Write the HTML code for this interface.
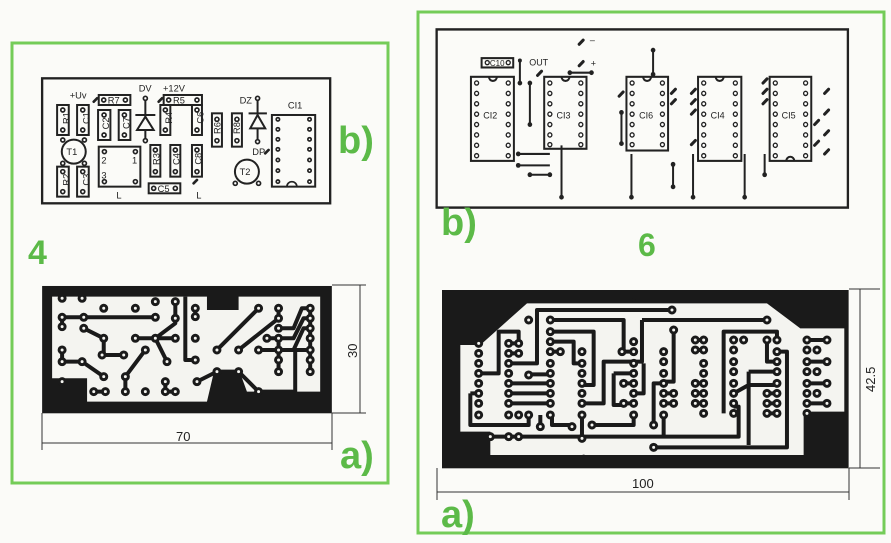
<!DOCTYPE html>
<html><head><meta charset="utf-8"><style>
html,body{margin:0;padding:0;background:#fdfdfb;}
svg{display:block;font-family:"Liberation Sans",sans-serif;}
.g{fill:#5cba48;font-weight:bold;font-family:"Liberation Sans",sans-serif;}
</style></head><body>
<svg width="891" height="543" viewBox="0 0 891 543" xmlns="http://www.w3.org/2000/svg">
<rect width="891" height="543" fill="#fbfbf8"/>
<rect x="12" y="43" width="376" height="440" fill="none" stroke="#74cc58" stroke-width="3"/>
<rect x="418" y="12" width="466" height="521" fill="none" stroke="#74cc58" stroke-width="3"/>

<!-- LEFT b) -->
<g transform="translate(0.5,30) scale(0.333,0.3333)" stroke="#222" fill="none" stroke-width="5">
<rect x="125" y="145" width="865" height="375" stroke-width="7"/>
<g stroke-width="6">
<rect x="170" y="225" width="35" height="90"/><rect x="230" y="225" width="35" height="90"/>
<rect x="293" y="240" width="37" height="90"/><rect x="355" y="240" width="35" height="90"/>
<rect x="295" y="195" width="95" height="30"/>
<rect x="480" y="225" width="30" height="90"/><rect x="575" y="225" width="30" height="90"/>
<rect x="490" y="195" width="115" height="30"/>
<rect x="635" y="250" width="30" height="100"/><rect x="695" y="250" width="30" height="100"/>
<rect x="815" y="255" width="130" height="215"/>
<circle cx="220" cy="365" r="36"/><circle cx="740" cy="425" r="36"/>
<rect x="295" y="350" width="125" height="120"/>
<rect x="170" y="410" width="35" height="90"/><rect x="230" y="410" width="35" height="90"/>
<rect x="450" y="345" width="30" height="95"/><rect x="510" y="345" width="30" height="95"/>
<rect x="575" y="345" width="30" height="95"/>
<rect x="445" y="460" width="95" height="30"/>
</g>
<path d="M435 205V260M435 300V330M405 255H465M410 300H460M435 260L410 300H460Z" stroke-width="6"/>
<path d="M772 205V255M772 295V335M745 250H800M772 255L750 295H795Z" stroke-width="6"/>
<path d="M860 470a15 15 0 0 1 30 0" stroke-width="5"/>
<g fill="#fff" stroke-width="5">
<circle cx="187" cy="240" r="6"/><circle cx="187" cy="300" r="6"/><circle cx="247" cy="240" r="6"/><circle cx="247" cy="300" r="6"/>
<circle cx="311" cy="255" r="6"/><circle cx="311" cy="315" r="6"/><circle cx="372" cy="255" r="6"/><circle cx="372" cy="315" r="6"/>
<circle cx="310" cy="210" r="6"/><circle cx="375" cy="210" r="6"/><circle cx="505" cy="210" r="6"/><circle cx="590" cy="210" r="6"/>
<circle cx="495" cy="240" r="6"/><circle cx="495" cy="300" r="6"/><circle cx="590" cy="240" r="6"/><circle cx="590" cy="300" r="6"/>
<circle cx="650" cy="268" r="6"/><circle cx="650" cy="332" r="6"/><circle cx="710" cy="268" r="6"/><circle cx="710" cy="332" r="6"/>
<circle cx="435" cy="205" r="6"/><circle cx="435" cy="332" r="6"/><circle cx="772" cy="205" r="6"/><circle cx="772" cy="335" r="6"/>
<circle cx="187" cy="330" r="6"/><circle cx="252" cy="330" r="6"/><circle cx="187" cy="400" r="6"/><circle cx="252" cy="400" r="6"/>
<circle cx="187" cy="425" r="6"/><circle cx="187" cy="485" r="6"/><circle cx="247" cy="425" r="6"/><circle cx="247" cy="485" r="6"/>
<circle cx="312" cy="365" r="6"/><circle cx="405" cy="365" r="6"/><circle cx="312" cy="455" r="6"/><circle cx="405" cy="455" r="6"/>
<circle cx="465" cy="360" r="6"/><circle cx="465" cy="425" r="6"/><circle cx="525" cy="360" r="6"/><circle cx="525" cy="425" r="6"/>
<circle cx="590" cy="360" r="6"/><circle cx="590" cy="425" r="6"/><circle cx="460" cy="475" r="6"/><circle cx="525" cy="475" r="6"/>
<circle cx="705" cy="460" r="6"/><circle cx="775" cy="460" r="6"/>
<circle cx="833" cy="268" r="5"/><circle cx="833" cy="298" r="5"/><circle cx="833" cy="328" r="5"/><circle cx="833" cy="358" r="5"/><circle cx="833" cy="390" r="5"/><circle cx="833" cy="422" r="5"/><circle cx="833" cy="455" r="5"/>
<circle cx="928" cy="268" r="5"/><circle cx="928" cy="298" r="5"/><circle cx="928" cy="328" r="5"/><circle cx="928" cy="358" r="5"/><circle cx="928" cy="390" r="5"/><circle cx="928" cy="422" r="5"/><circle cx="928" cy="455" r="5"/>
</g>
<g stroke-width="8" stroke-linecap="round"><path d="M280 215l10-10M475 215l10-10M580 460l10-10M795 370l10-10"/></g>
<g stroke="none" fill="#222" font-size="28">
<text x="175" y="290" transform="rotate(-90 187 270)">R1</text>
<text x="235" y="290" transform="rotate(-90 247 270)">C1</text>
<text x="298" y="300" transform="rotate(-90 311 285)">C2</text>
<text x="360" y="300" transform="rotate(-90 372 285)">C7</text>
<text x="322" y="221">R7</text><text x="518" y="221">R5</text>
<text x="484" y="290" transform="rotate(-90 495 270)">R4</text>
<text x="579" y="290" transform="rotate(-90 590 270)">C6</text>
<text x="638" y="310" transform="rotate(-90 650 300)">R6</text>
<text x="698" y="310" transform="rotate(-90 710 300)">R8</text>
<text x="175" y="475" transform="rotate(-90 187 455)">R2</text>
<text x="235" y="475" transform="rotate(-90 247 455)">C3</text>
<text x="452" y="405" transform="rotate(-90 465 392)">R3</text>
<text x="512" y="405" transform="rotate(-90 525 392)">C4</text>
<text x="578" y="405" transform="rotate(-90 590 392)">C8</text>
<text x="472" y="486">C5</text>
<text x="198" y="375">T1</text><text x="718" y="435">T2</text>
<text x="303" y="400">2</text><text x="395" y="400">1</text><text x="303" y="445">3</text>
<text x="348" y="505">L</text><text x="588" y="505">L</text>
<text x="208" y="205">+Uv</text><text x="415" y="185">DV</text><text x="488" y="185">+12V</text>
<text x="718" y="220">DZ</text><text x="863" y="235">CI1</text><text x="756" y="375">DP</text>
</g>
</g>

<!-- LEFT a) -->
<g transform="translate(0.5,30) scale(0.333,0.3333)">
<rect x="125" y="768" width="870" height="382" fill="#1a1a1a"/>
<path d="M155 800H620V840H715V800H960V1085H740L720 1030H640L620 1115H260V1045H155Z" fill="#f4f4f0"/>
<g stroke="#1a1a1a" stroke-width="12" fill="none" stroke-linejoin="round">
<path d="M185 862H465M185 862V890M250 895L310 925V975H370M185 995H245L310 1040M465 925L525 880V815M405 925H465L500 995M465 925H525M435 960L375 1040V1085M650 960L775 835M715 960L835 865V835M800 925H880L910 865H930M775 960H880L910 895H930M835 895H880L905 835H930M590 1055L650 1025H715L775 1085H885V960H930M555 800V990H585M585 835V860M280 1085H315M495 1055V1085H525M185 960V995M835 925V1025M930 835V1025"/>
</g>
<g fill="#f4f4f0" stroke="#1a1a1a" stroke-width="9">
<circle cx="185" cy="805" r="9"/><circle cx="245" cy="805" r="9"/><circle cx="310" cy="835" r="9"/><circle cx="405" cy="835" r="9"/><circle cx="465" cy="815" r="9"/><circle cx="525" cy="815" r="9"/><circle cx="585" cy="835" r="9"/><circle cx="585" cy="860" r="9"/><circle cx="185" cy="862" r="9"/><circle cx="250" cy="862" r="9"/><circle cx="465" cy="862" r="9"/><circle cx="525" cy="865" r="9"/><circle cx="185" cy="890" r="9"/><circle cx="250" cy="895" r="9"/><circle cx="310" cy="925" r="9"/><circle cx="405" cy="925" r="9"/><circle cx="465" cy="925" r="9"/><circle cx="525" cy="925" r="9"/><circle cx="585" cy="925" r="9"/><circle cx="650" cy="960" r="9"/><circle cx="775" cy="835" r="9"/><circle cx="835" cy="835" r="9"/><circle cx="930" cy="835" r="9"/><circle cx="835" cy="865" r="9"/><circle cx="930" cy="865" r="9"/><circle cx="835" cy="895" r="9"/><circle cx="930" cy="895" r="9"/><circle cx="800" cy="925" r="9"/><circle cx="835" cy="925" r="9"/><circle cx="930" cy="925" r="9"/><circle cx="775" cy="960" r="9"/><circle cx="835" cy="960" r="9"/><circle cx="930" cy="960" r="9"/><circle cx="835" cy="990" r="9"/><circle cx="930" cy="990" r="9"/><circle cx="835" cy="1025" r="9"/><circle cx="930" cy="1025" r="9"/><circle cx="185" cy="960" r="9"/><circle cx="185" cy="995" r="9"/><circle cx="245" cy="995" r="9"/><circle cx="305" cy="975" r="9"/><circle cx="370" cy="975" r="9"/><circle cx="435" cy="960" r="9"/><circle cx="500" cy="995" r="9"/><circle cx="585" cy="990" r="9"/><circle cx="310" cy="1040" r="9"/><circle cx="185" cy="1055" r="9"/><circle cx="375" cy="1040" r="9"/><circle cx="280" cy="1085" r="9"/><circle cx="315" cy="1085" r="9"/><circle cx="375" cy="1085" r="9"/><circle cx="435" cy="1085" r="9"/><circle cx="495" cy="1055" r="9"/><circle cx="495" cy="1085" r="9"/><circle cx="525" cy="1085" r="9"/><circle cx="590" cy="1055" r="9"/><circle cx="650" cy="1025" r="9"/><circle cx="715" cy="1025" r="9"/><circle cx="775" cy="1085" r="9"/><circle cx="715" cy="960" r="9"/>
</g>
</g>
<g stroke="#333" stroke-width="1" fill="none">
<path d="M42 413V450M332 413V450M42 443H332M332 285H366M332 413H366M360 285V413"/>
</g>
<text x="176" y="441" font-size="13" fill="#222">70</text>
<text x="0" y="0" font-size="13" fill="#222" transform="translate(357,358) rotate(-90)">30</text>

<!-- RIGHT b) -->
<g transform="translate(410,0) scale(0.333,0.346)" stroke="#222" fill="none">
<rect x="80" y="85" width="1235" height="515" stroke-width="7"/>
<g stroke-width="6">
<rect x="183" y="222" width="129" height="243"/><rect x="403" y="222" width="127" height="208"/>
<rect x="650" y="222" width="125" height="213"/><rect x="865" y="222" width="130" height="243"/>
<rect x="1080" y="222" width="125" height="243"/>
<rect x="215" y="168" width="95" height="27"/>
</g>
<g stroke-width="6">
<path d="M237 222a12 12 0 0 0 24 0M455 222a12 12 0 0 0 24 0M700 222a12 12 0 0 0 24 0M918 222a12 12 0 0 0 24 0M1130 465a12 12 0 0 1 24 0"/>
<path d="M330 175V240M360 240V360M325 445H420M325 478H420M360 505H420M455 420V570M480 210H545M730 145V215M635 325V415M665 445V570M790 475V540M850 445V570M1005 445V570M1065 445V505"/>
</g>
<g fill="#222" stroke="none">
<circle cx="330" cy="240" r="7"/><circle cx="360" cy="240" r="7"/><circle cx="360" cy="360" r="7"/><circle cx="325" cy="445" r="7"/><circle cx="325" cy="478" r="7"/><circle cx="360" cy="505" r="7"/><circle cx="420" cy="505" r="7"/><circle cx="455" cy="570" r="7"/><circle cx="480" cy="210" r="7"/><circle cx="545" cy="210" r="7"/><circle cx="730" cy="145" r="7"/><circle cx="730" cy="215" r="7"/><circle cx="635" cy="325" r="7"/><circle cx="635" cy="415" r="7"/><circle cx="665" cy="570" r="7"/><circle cx="790" cy="475" r="7"/><circle cx="790" cy="540" r="7"/><circle cx="850" cy="570" r="7"/><circle cx="1005" cy="570" r="7"/><circle cx="1065" cy="505" r="7"/><circle cx="330" cy="175" r="6"/>
</g>
<g fill="#fff" stroke-width="4">
<circle cx="200" cy="240" r="6"/><circle cx="200" cy="270" r="6"/><circle cx="200" cy="300" r="6"/><circle cx="200" cy="330" r="6"/><circle cx="200" cy="360" r="6"/><circle cx="200" cy="390" r="6"/><circle cx="200" cy="420" r="6"/><circle cx="200" cy="450" r="6"/>
<circle cx="295" cy="240" r="6"/><circle cx="295" cy="270" r="6"/><circle cx="295" cy="300" r="6"/><circle cx="295" cy="330" r="6"/><circle cx="295" cy="360" r="6"/><circle cx="295" cy="390" r="6"/><circle cx="295" cy="420" r="6"/><circle cx="295" cy="450" r="6"/>
<circle cx="420" cy="240" r="6"/><circle cx="420" cy="270" r="6"/><circle cx="420" cy="300" r="6"/><circle cx="420" cy="330" r="6"/><circle cx="420" cy="360" r="6"/><circle cx="420" cy="390" r="6"/><circle cx="420" cy="418" r="6"/>
<circle cx="513" cy="240" r="6"/><circle cx="513" cy="270" r="6"/><circle cx="513" cy="300" r="6"/><circle cx="513" cy="330" r="6"/><circle cx="513" cy="360" r="6"/><circle cx="513" cy="390" r="6"/><circle cx="513" cy="418" r="6"/>
<circle cx="667" cy="240" r="6"/><circle cx="667" cy="270" r="6"/><circle cx="667" cy="300" r="6"/><circle cx="667" cy="330" r="6"/><circle cx="667" cy="360" r="6"/><circle cx="667" cy="390" r="6"/><circle cx="667" cy="418" r="6"/>
<circle cx="758" cy="240" r="6"/><circle cx="758" cy="270" r="6"/><circle cx="758" cy="300" r="6"/><circle cx="758" cy="330" r="6"/><circle cx="758" cy="360" r="6"/><circle cx="758" cy="390" r="6"/><circle cx="758" cy="418" r="6"/>
<circle cx="882" cy="240" r="6"/><circle cx="882" cy="270" r="6"/><circle cx="882" cy="300" r="6"/><circle cx="882" cy="330" r="6"/><circle cx="882" cy="360" r="6"/><circle cx="882" cy="390" r="6"/><circle cx="882" cy="420" r="6"/><circle cx="882" cy="450" r="6"/>
<circle cx="977" cy="240" r="6"/><circle cx="977" cy="270" r="6"/><circle cx="977" cy="300" r="6"/><circle cx="977" cy="330" r="6"/><circle cx="977" cy="360" r="6"/><circle cx="977" cy="390" r="6"/><circle cx="977" cy="420" r="6"/><circle cx="977" cy="450" r="6"/>
<circle cx="1097" cy="240" r="6"/><circle cx="1097" cy="270" r="6"/><circle cx="1097" cy="300" r="6"/><circle cx="1097" cy="330" r="6"/><circle cx="1097" cy="360" r="6"/><circle cx="1097" cy="390" r="6"/><circle cx="1097" cy="420" r="6"/><circle cx="1097" cy="450" r="6"/>
<circle cx="1188" cy="240" r="6"/><circle cx="1188" cy="270" r="6"/><circle cx="1188" cy="300" r="6"/><circle cx="1188" cy="330" r="6"/><circle cx="1188" cy="360" r="6"/><circle cx="1188" cy="390" r="6"/><circle cx="1188" cy="420" r="6"/><circle cx="1188" cy="450" r="6"/>
<circle cx="232" cy="181" r="6"/><circle cx="295" cy="181" r="6"/>
</g>
<g stroke-width="9" stroke-linecap="round">
<path d="M508 128l12-12M508 190l12-12M383 218l12-12M628 278l12-12M785 270l12-12M785 300l12-12M845 270l12-12M845 300l12-12M845 330l12-12M845 418l12-12M1060 240l12-12M1060 270l12-12M1060 300l12-12M1245 270l12-12M1245 330l12-12M1215 360l12-12M1245 390l12-12M1215 420l12-12M1245 445l12-12"/>
</g>
<g fill="#222" stroke="none" font-size="27">
<text x="220" y="342">CI2</text><text x="440" y="342">CI3</text><text x="688" y="342">CI6</text>
<text x="903" y="342">CI4</text><text x="1116" y="342">CI5</text>
<text x="240" y="191" font-size="24">C10</text><text x="358" y="190">OUT</text>
<text x="540" y="125">–</text><text x="543" y="192">+</text>
</g>
</g>

<!-- RIGHT a) -->
<g transform="translate(437,285) scale(0.3333)">
<rect x="15" y="15" width="1220" height="535" fill="#1a1a1a"/>
<path d="M70 180H130L270 55H990L1090 130H1222V380H1100V510H160V440H70Z" fill="#f4f4f0"/>
<g stroke="#1a1a1a" stroke-width="12" fill="none" stroke-linejoin="round">
<path d="M125 265H185V140H245V175M100 325V420H275V390M100 325H125M215 235H300V75H705M270 268H340M215 295H340M215 325H340M215 355H340M340 105H560V200M615 105H990M615 105V230H500V355H435M340 140H470V300H435M340 170H410V235H435M340 200H370M310 390V425M345 390V420H405M435 390V460M215 455H905V365H890M465 420H590V390M530 265H590M530 265V360H560M590 325H620V235M650 420V295H680M680 390V450M710 135V290H680M650 487H1050V200H1020M860 385V140H1020V165M935 260V480M890 325L935 300H1020M990 165V230H1020M935 260H1020M1110 165H1170M1110 230H1170M1110 295H1170M1110 355H1170M775 165H800M775 195H800M775 295H800M775 325H800M775 355H800M215 175H245M215 205H245M990 325H1020M990 355H1020M990 385H1020M680 325H710M680 355H710M555 200H590M560 295H590M560 355H590M245 455H160"/>
</g>
<g fill="#f4f4f0" stroke="#1a1a1a" stroke-width="9">
<circle cx="125" cy="175" r="9"/><circle cx="125" cy="205" r="9"/><circle cx="125" cy="235" r="9"/><circle cx="125" cy="265" r="9"/><circle cx="125" cy="295" r="9"/><circle cx="125" cy="325" r="9"/><circle cx="125" cy="355" r="9"/><circle cx="125" cy="390" r="9"/>
<circle cx="215" cy="175" r="9"/><circle cx="215" cy="205" r="9"/><circle cx="215" cy="235" r="9"/><circle cx="215" cy="265" r="9"/><circle cx="215" cy="295" r="9"/><circle cx="215" cy="325" r="9"/><circle cx="215" cy="355" r="9"/><circle cx="215" cy="390" r="9"/>
<circle cx="245" cy="175" r="9"/><circle cx="245" cy="205" r="9"/><circle cx="245" cy="390" r="9"/>
<circle cx="275" cy="105" r="9"/><circle cx="275" cy="270" r="9"/><circle cx="275" cy="390" r="9"/>
<circle cx="340" cy="105" r="9"/><circle cx="340" cy="140" r="9"/><circle cx="340" cy="170" r="9"/><circle cx="340" cy="200" r="9"/><circle cx="340" cy="235" r="9"/><circle cx="340" cy="265" r="9"/><circle cx="340" cy="295" r="9"/><circle cx="340" cy="325" r="9"/><circle cx="340" cy="355" r="9"/><circle cx="340" cy="390" r="9"/>
<circle cx="370" cy="200" r="9"/>
<circle cx="435" cy="200" r="9"/><circle cx="435" cy="235" r="9"/><circle cx="435" cy="265" r="9"/><circle cx="435" cy="295" r="9"/><circle cx="435" cy="325" r="9"/><circle cx="435" cy="355" r="9"/><circle cx="435" cy="390" r="9"/>
<circle cx="405" cy="425" r="9"/><circle cx="310" cy="425" r="9"/><circle cx="465" cy="420" r="9"/>
<circle cx="555" cy="200" r="9"/><circle cx="590" cy="170" r="9"/><circle cx="590" cy="200" r="9"/><circle cx="590" cy="235" r="9"/><circle cx="590" cy="265" r="9"/><circle cx="590" cy="295" r="9"/><circle cx="590" cy="325" r="9"/><circle cx="590" cy="355" r="9"/><circle cx="590" cy="390" r="9"/><circle cx="560" cy="295" r="9"/><circle cx="560" cy="355" r="9"/>
<circle cx="680" cy="200" r="9"/><circle cx="680" cy="230" r="9"/><circle cx="680" cy="265" r="9"/><circle cx="680" cy="295" r="9"/><circle cx="680" cy="325" r="9"/><circle cx="680" cy="355" r="9"/><circle cx="680" cy="390" r="9"/><circle cx="710" cy="325" r="9"/><circle cx="710" cy="355" r="9"/><circle cx="710" cy="135" r="9"/><circle cx="650" cy="420" r="9"/>
<circle cx="775" cy="165" r="9"/><circle cx="775" cy="195" r="9"/><circle cx="775" cy="295" r="9"/><circle cx="775" cy="325" r="9"/><circle cx="775" cy="355" r="9"/>
<circle cx="800" cy="165" r="9"/><circle cx="800" cy="195" r="9"/><circle cx="800" cy="235" r="9"/><circle cx="800" cy="265" r="9"/><circle cx="800" cy="295" r="9"/><circle cx="800" cy="325" r="9"/><circle cx="800" cy="355" r="9"/><circle cx="800" cy="385" r="9"/>
<circle cx="890" cy="165" r="9"/><circle cx="890" cy="195" r="9"/><circle cx="890" cy="230" r="9"/><circle cx="890" cy="260" r="9"/><circle cx="890" cy="295" r="9"/><circle cx="890" cy="325" r="9"/><circle cx="890" cy="355" r="9"/><circle cx="890" cy="385" r="9"/><circle cx="920" cy="165" r="9"/>
<circle cx="990" cy="165" r="9"/><circle cx="1020" cy="165" r="9"/><circle cx="1020" cy="200" r="9"/><circle cx="1020" cy="230" r="9"/><circle cx="1020" cy="260" r="9"/><circle cx="1020" cy="295" r="9"/><circle cx="1020" cy="325" r="9"/><circle cx="1020" cy="355" r="9"/><circle cx="1020" cy="385" r="9"/><circle cx="990" cy="325" r="9"/><circle cx="990" cy="355" r="9"/><circle cx="990" cy="385" r="9"/>
<circle cx="1110" cy="165" r="9"/><circle cx="1110" cy="195" r="9"/><circle cx="1110" cy="230" r="9"/><circle cx="1110" cy="260" r="9"/><circle cx="1110" cy="295" r="9"/><circle cx="1110" cy="325" r="9"/><circle cx="1110" cy="355" r="9"/><circle cx="1110" cy="385" r="9"/>
<circle cx="1170" cy="165" r="9"/><circle cx="1170" cy="230" r="9"/><circle cx="1170" cy="295" r="9"/><circle cx="1170" cy="355" r="9"/><circle cx="1140" cy="195" r="9"/><circle cx="1140" cy="260" r="9"/><circle cx="1140" cy="325" r="9"/>
<circle cx="160" cy="455" r="9"/><circle cx="215" cy="455" r="9"/><circle cx="245" cy="455" r="9"/><circle cx="435" cy="460" r="9"/><circle cx="650" cy="487" r="9"/><circle cx="705" cy="75" r="9"/><circle cx="990" cy="105" r="9"/>
</g>
<g fill="#1a1a1a"><circle cx="375" cy="45" r="6"/><circle cx="590" cy="45" r="6"/><circle cx="775" cy="45" r="6"/><circle cx="925" cy="45" r="6"/><circle cx="440" cy="515" r="6"/></g>
</g>
<g stroke="#333" stroke-width="1" fill="none">
<path d="M437 468V500M849 468V500M437 492H849M849 289H880M849 468H880M860 289V468"/>
</g>
<text x="632" y="488" font-size="13" fill="#222">100</text>
<text x="0" y="0" font-size="13" fill="#222" transform="translate(875,392) rotate(-90)">42.5</text>

<text class="g" x="338" y="153" font-size="38">b)</text>
<text class="g" x="28" y="264" font-size="34">4</text>
<text class="g" x="340" y="468" font-size="38">a)</text>
<text class="g" x="441" y="235" font-size="38">b)</text>
<text class="g" x="638" y="256" font-size="32">6</text>
<text class="g" x="441" y="527" font-size="38">a)</text>
</svg>
</body></html>
